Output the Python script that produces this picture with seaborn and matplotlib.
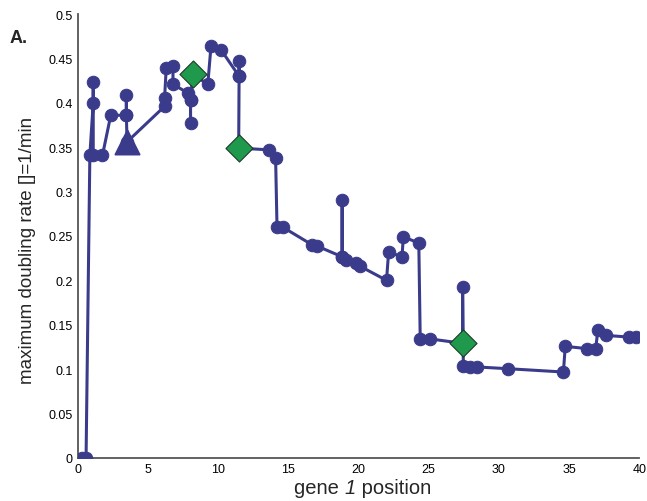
import numpy as np
import pandas as pd
import matplotlib.pyplot as plt
import seaborn as sns
from matplotlib.offsetbox import TextArea, HPacker, AnchoredOffsetbox

# trajectory of gene 1 position vs maximum doubling rate
POS = [0.3, 0.6, 0.87, 1.11, 1.11, 1.11, 1.77, 2.36, 3.47, 3.47, 3.47, 3.52,
       6.19, 6.19, 6.31, 6.79, 6.79, 7.85, 8.04, 8.04, 8.04, 8.2, 9.27, 9.5,
       10.2, 11.5, 11.5, 11.5, 11.47, 13.64, 14.1, 14.2, 14.6, 16.7, 17.07,
       18.84, 18.84, 18.84, 19.1, 19.8, 20.1, 22.0, 22.15, 23.1, 23.2, 24.3,
       24.4, 25.1, 27.42, 27.42, 27.47, 27.94, 28.46, 30.66, 34.6, 34.73,
       36.3, 36.9, 37.05, 37.6, 39.3, 39.77]
RATE = [0.0, 0.0, 0.341, 0.400, 0.424, 0.341, 0.341, 0.386, 0.386, 0.409, 0.386,
        0.356, 0.396, 0.405, 0.439, 0.441, 0.421, 0.411, 0.403, 0.377, 0.403,
        0.432, 0.421, 0.464, 0.460, 0.430, 0.447, 0.430, 0.349, 0.347, 0.338,
        0.260, 0.260, 0.240, 0.2385, 0.2265, 0.291, 0.2265, 0.223, 0.219, 0.216,
        0.200, 0.232, 0.2265, 0.249, 0.242, 0.134, 0.134, 0.129, 0.193, 0.1035,
        0.1024, 0.1024, 0.1004, 0.0967, 0.1256, 0.123, 0.123, 0.1437, 0.138,
        0.136, 0.136]

# highlighted points
DIAMOND_POS = [8.2, 11.47, 27.42]
DIAMOND_RATE = [0.432, 0.349, 0.129]
TRIANGLE_POS = [3.52]
TRIANGLE_RATE = [0.356]

BLUE = "#3b3b8c"
GREEN = "#1f9a4c"

sns.set_style("white")
plt.rcParams["font.family"] = ["Liberation Sans", "DejaVu Sans"]

df = pd.DataFrame({"pos": POS, "rate": RATE, "step": np.arange(len(POS))})

fig = plt.figure(figsize=(6.47, 5.02), dpi=100)
ax = fig.add_axes([0.12, 0.086, 0.868, 0.884])

sns.lineplot(data=df, x="pos", y="rate", sort=False, estimator=None,
             color=BLUE, linewidth=2.2, marker="o", markersize=9,
             markeredgecolor=BLUE, ax=ax, zorder=3)
sns.scatterplot(x=TRIANGLE_POS, y=TRIANGLE_RATE, marker="^", s=300,
                color=BLUE, edgecolor=BLUE, ax=ax, zorder=4)
sns.scatterplot(x=DIAMOND_POS, y=DIAMOND_RATE, marker="D", s=190,
                color=GREEN, edgecolor="#1d3a2a", linewidth=0.8, ax=ax, zorder=5)

ax.set_xlim(0, 40)
ax.set_ylim(0, 0.5)
ax.set_xticks(np.arange(0, 41, 5))
ax.set_yticks(np.arange(0, 0.501, 0.05))
ax.set_yticklabels(["0", "0.05", "0.1", "0.15", "0.2", "0.25", "0.3", "0.35",
                    "0.4", "0.45", "0.5"])
ax.tick_params(direction="in", length=4, width=1, colors="#555555",
               labelcolor="black", labelsize=9)
for s in ["top", "right"]:
    ax.spines[s].set_visible(False)
for s in ["left", "bottom"]:
    ax.spines[s].set_color("#555555")
    ax.spines[s].set_linewidth(1.3)

ax.set_xlabel("")
ax.set_ylabel("maximum doubling rate []=1/min", fontsize=13.5)
ax.yaxis.set_label_coords(-0.075, 0.47)

# x label with italic "1"
lab_props = dict(fontsize=14.5, family=["Liberation Sans", "DejaVu Sans"])
parts = [TextArea("gene ", textprops=lab_props),
         TextArea("1", textprops=dict(lab_props, style="italic")),
         TextArea(" position", textprops=lab_props)]
box = HPacker(children=parts, align="baseline", pad=0, sep=0)
anch = AnchoredOffsetbox(loc="upper center", child=box, pad=0, frameon=False,
                         bbox_to_anchor=(0.56, 0.045),
                         bbox_transform=fig.transFigure, borderpad=0)
fig.add_artist(anch)

fig.text(0.015, 0.915, "A.", fontsize=13, fontweight="bold")

fig.savefig("out.png", dpi=100)
